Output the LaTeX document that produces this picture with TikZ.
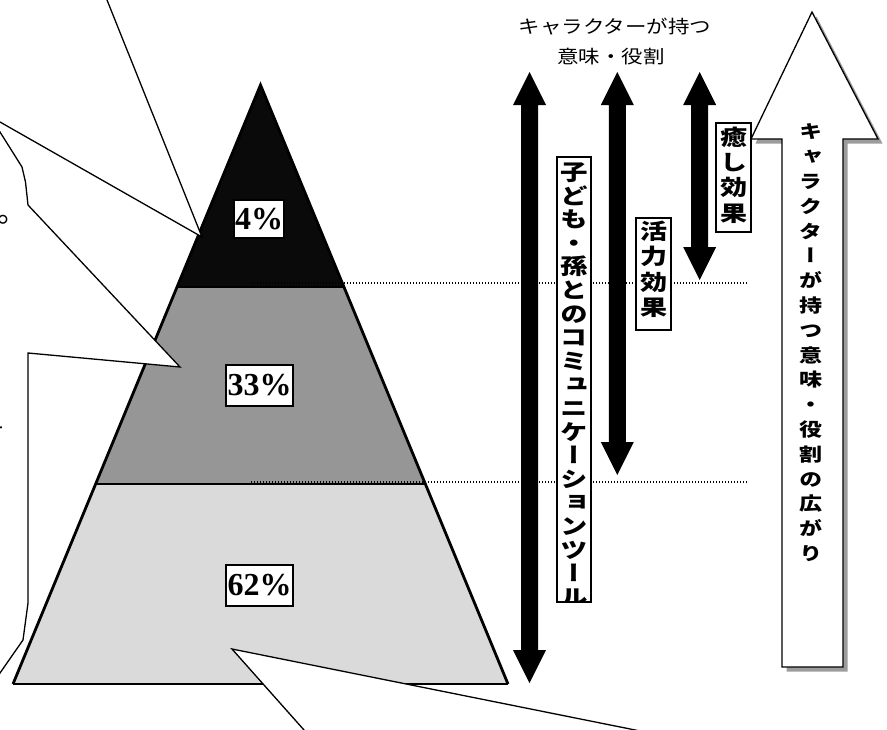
\documentclass[tikz,border=0pt]{standalone}
\usepackage{fontspec}
\usepackage{graphicx}
\setmainfont{Liberation Serif}
\newfontfamily\jp{Noto Sans CJK JP}
\newfontfamily\jpv[RawFeature=+vert]{Noto Sans CJK JP}
\usetikzlibrary{calc}
\makeatletter
\newcommand\vcol[4]{%
  \scalebox{1}[0.8]{\vbox{\fontsize{#1}{#2}\selectfont\lineskiplimit=-\maxdimen\lineskip=0pt
  \@tfor\vc@ch:=#4\do{\hbox to #3{\hss\raisebox{0pt}[0.88em][0.12em]{\vc@ch}\hss}}}}}
\newcommand\hjp[1]{\scalebox{1}[0.85]{\raisebox{0pt}[0.88em][0.12em]{#1}}}
\makeatother
\definecolor{tierA}{HTML}{0A0A0A}
\definecolor{tierB}{HTML}{969696}
\definecolor{tierC}{HTML}{DADADA}
\definecolor{shadowgray}{HTML}{9C9C9C}
\tikzset{
  pct/.style={draw, line width=1.2pt, fill=white, font=\bfseries\fontsize{32}{32}\selectfont, inner xsep=1pt, inner ysep=0pt},
  vlabel/.style={draw, line width=1.2pt, fill=white, inner sep=0pt},
  vtxt/.style={inner sep=0pt, anchor=north, font=\jpv\bfseries},
  callout/.style={fill=white, draw=black, line width=1.3pt, line join=miter},
  dotline/.style={line width=1.1pt, dash pattern=on 1.1pt off 1.9pt},
  blk/.style={fill=black},
  bigarrow/.style={fill=white, draw=black, line width=1.3pt, line join=miter},
}
\newcommand\blockarrow[2]{%
  \fill[blk] (#1) -- ($(#1)+(16.5,33)$) -- ($(#1)+(8.5,33)$) -- ($(#2)+(8.5,-33)$) -- ($(#2)+(16.5,-33)$) -- (#2)
    -- ($(#2)+(-16.5,-33)$) -- ($(#2)+(-8.5,-33)$) -- ($(#1)+(-8.5,33)$) -- ($(#1)+(-16.5,33)$) -- cycle;}
\begin{document}
\begin{tikzpicture}[x=1pt,y=-1pt]
\useasboundingbox (0,0) rectangle (887,729);
\clip (0,0) rectangle (887,729);
% ---------- pyramid
\coordinate (apex) at (260.5,85);
\coordinate (bl) at (13,684);
\coordinate (br) at (508,684);
\coordinate (l1) at ($(apex)!0.3372!(bl)$);
\coordinate (r1) at ($(apex)!0.3372!(br)$);
\coordinate (l2) at ($(apex)!0.6661!(bl)$);
\coordinate (r2) at ($(apex)!0.6661!(br)$);
\fill[tierA] (apex)--(r1)--(l1)--cycle;
\fill[tierB] (l1)--(r1)--(r2)--(l2)--cycle;
\fill[tierC] (l2)--(r2)--(br)--(bl)--cycle;
\draw[line width=1.8pt] (l1)--(r1) (l2)--(r2);
\draw[line width=2pt] (bl)--(br);
\draw[line width=2.8pt] (bl)--(apex)--(br);
% ---------- dotted level lines
\coordinate (d1s) at (251,283);
\coordinate (d1e) at (748,283);
\coordinate (d2s) at (251,482);
\coordinate (d2e) at (748,482);
\draw[dotline] (d1s)--(d1e);
\draw[dotline] (d2s)--(d2e);
% ---------- percentage labels
\node[pct, minimum width=48pt, minimum height=38pt] (p4) at (259,219) {4\%};
\node[pct, minimum width=67pt, minimum height=41pt] (p33) at (259.5,385.5) {33\%};
\node[pct, minimum width=67pt, minimum height=41pt] (p62) at (259.5,585.5) {62\%};
% ---------- callouts
\coordinate (c1tip) at (202,237);
\draw[callout] (103,-10) -- (c1tip) -- (-10,116.3) -- (-10,-10) -- cycle;
\coordinate (c2tip) at (180,367);
\draw[callout] (-10,116) -- (0,132) -- (22,167) -- (25.5,182) -- (28,205) -- (c2tip) -- (28,353)
   -- (28,603) -- (23,640) -- (0,673) -- (-10,688) -- cycle;
\node[inner sep=0pt, anchor=base west, font=\jp\fontsize{30}{30}\selectfont] (c2a) at (-2.5,222) {。};
\node[inner sep=0pt, anchor=base west, font=\jp\fontsize{20}{20}\selectfont] (c2b) at (-16,435.6) {ー};
\coordinate (c3tip) at (232,649);
\draw[callout] (312,739) -- (c3tip) -- (680,739) -- cycle;
% ---------- black double arrows
\coordinate (a1t) at (529.5,72);  \coordinate (a1b) at (529.5,683);
\coordinate (a2t) at (617.3,72);  \coordinate (a2b) at (617.3,475);
\coordinate (a3t) at (699.7,72);  \coordinate (a3b) at (699.7,280);
\blockarrow{a1t}{a1b}
\blockarrow{a2t}{a2b}
\blockarrow{a3t}{a3b}
% ---------- vertical labels
\node[vlabel, minimum width=34pt, minimum height=445pt] (kbox) at (574,379.5) {};
\begin{scope}
  \clip (kbox.south west) rectangle (kbox.north east);
  \node[vtxt] (ktxt) at (574,161) {\vcol{27.5}{29.5}{32pt}{子ども・孫とのコミュニケーションツール}};
\end{scope}
\draw[line width=1.2pt] (kbox.south west) rectangle (kbox.north east);
\node[vlabel, minimum width=35pt, minimum height=112pt] (vbox2) at (653.5,274) {};
\node[vtxt] (vtxt2) at (653.5,220) {\vcol{27}{31.9}{32pt}{活力効果}};
\node[vlabel, minimum width=35pt, minimum height=109pt] (vbox3) at (733.5,177.5) {};
\node[vtxt] (vtxt3) at (733.5,126) {\vcol{27}{31.6}{32pt}{癒し効果}};
% ---------- big outline arrow
\coordinate (bt) at (812,12);
\coordinate (bhl) at (751,139);
\coordinate (bsl) at (782,139);
\coordinate (bslb) at (782,667);
\coordinate (bsrb) at (843,667);
\coordinate (bsr) at (843,139);
\coordinate (bhr) at (878,139);
\fill[shadowgray, transform canvas={xshift=4.5pt, yshift=-4.5pt}] (bt)--(bhr)--(bsr)--(bsrb)--(bslb)--(bsl)--(bhl)--cycle;
\draw[bigarrow] (bt)--(bhr)--(bsr)--(bsrb)--(bslb)--(bsl)--(bhl)--cycle;
\node[vtxt] (btxt) at (811,122.5) {\vcol{23}{31}{28pt}{キャラクターが持つ意味・役割の広がり}};
% ---------- title
\node[inner sep=0pt, font=\jp\fontsize{21.5}{21.5}\selectfont] (title1) at (615,27) {\hjp{キャラクターが持つ}};
\node[inner sep=0pt, font=\jp\fontsize{21.5}{21.5}\selectfont] (title2) at (611,57) {\hjp{意味・役割}};
\end{tikzpicture}
\end{document}
